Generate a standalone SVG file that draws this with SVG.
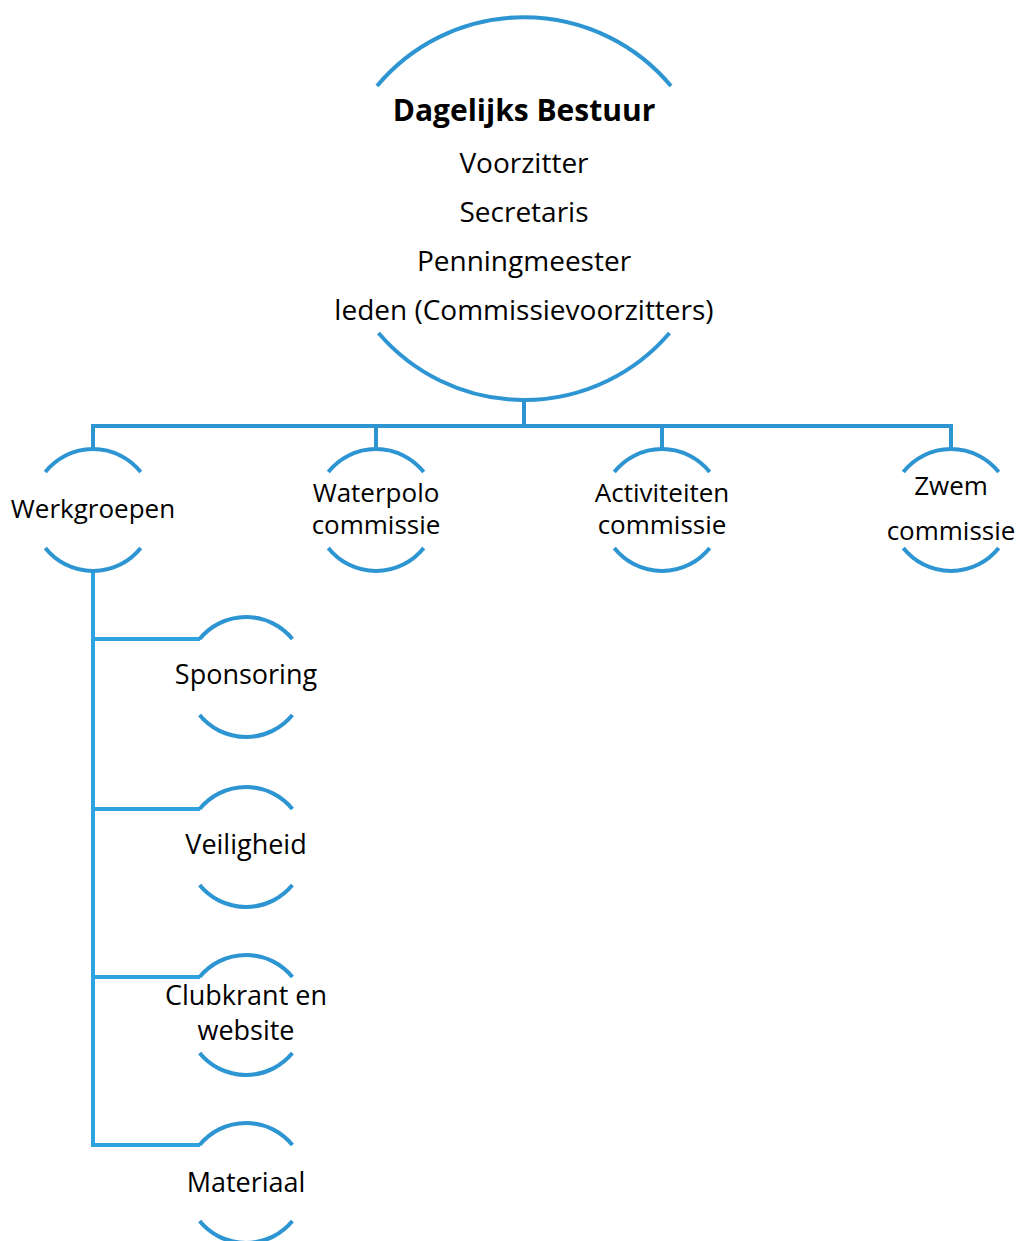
<svg xmlns="http://www.w3.org/2000/svg" width="1017" height="1241" viewBox="0 0 1017 1241">
<style>
.arc{fill:none;stroke:#2D95D2;stroke-width:4;stroke-linecap:butt}
.con{fill:none;stroke:#2D95D2;stroke-width:4;stroke-linejoin:miter;stroke-linecap:butt}
.con2{fill:none;stroke:#2FA2E0;stroke-width:4;stroke-linejoin:miter;stroke-linecap:butt}
text{font-family:"Open Sans","Noto Sans","Liberation Sans",sans-serif;fill:#000;text-anchor:middle}
.t1{font-size:30px;font-weight:bold}
.t2{font-size:28px}
.t3{font-size:26px}
.t4{font-size:27px}
</style>
<rect width="1017" height="1241" fill="#fff"/>
<g id="connectors">
<path class="con" d="M524,400 V426"/>
<path class="con" d="M93,449 V426 H951 V449"/>
<path class="con" d="M376,426 V449"/>
<path class="con" d="M662,426 V449"/>
<path class="con2" d="M93,571 V1145 H200"/>
<path class="con2" d="M93,639 H200"/>
<path class="con2" d="M93,809 H200"/>
<path class="con2" d="M93,977 H200"/>
</g>
<g id="dagelijks-bestuur">
<path class="arc" d="M377,86 A191.5,191.5 0 0 1 671,86"/>
<path class="arc" d="M378.5,333 A191.5,191.5 0 0 0 669.5,333"/>
<text class="t1" x="524" y="121">Dagelijks Bestuur</text>
<text class="t2" x="524" y="173">Voorzitter</text>
<text class="t2" x="524" y="222">Secretaris</text>
<text class="t2" x="524" y="271">Penningmeester</text>
<text class="t2" x="524" y="320">leden (Commissievoorzitters)</text>
</g>
<g id="werkgroepen">
<path class="arc" d="M45.3,472 A61,61 0 0 1 140.7,472"/>
<path class="arc" d="M45.3,548 A61,61 0 0 0 140.7,548"/>
<text class="t3" x="93" y="518">Werkgroepen</text>
</g>
<g id="waterpolo">
<path class="arc" d="M328.3,472 A61,61 0 0 1 423.7,472"/>
<path class="arc" d="M328.3,548 A61,61 0 0 0 423.7,548"/>
<text class="t3" x="376" y="502">Waterpolo</text>
<text class="t3" x="376" y="534">commissie</text>
</g>
<g id="activiteiten">
<path class="arc" d="M614.3,472 A61,61 0 0 1 709.7,472"/>
<path class="arc" d="M614.3,548 A61,61 0 0 0 709.7,548"/>
<text class="t3" x="662" y="502">Activiteiten</text>
<text class="t3" x="662" y="534">commissie</text>
</g>
<g id="zwem">
<path class="arc" d="M903.3,472 A61,61 0 0 1 998.7,472"/>
<path class="arc" d="M903.3,548 A61,61 0 0 0 998.7,548"/>
<text class="t3" x="951" y="495">Zwem</text>
<text class="t3" x="951" y="540">commissie</text>
</g>
<g id="sponsoring">
<path class="arc" d="M199.6,639 A60,60 0 0 1 292.4,639"/>
<path class="arc" d="M199.6,715 A60,60 0 0 0 292.4,715"/>
<text class="t4" x="246" y="684">Sponsoring</text>
</g>
<g id="veiligheid">
<path class="arc" d="M199.6,809 A60,60 0 0 1 292.4,809"/>
<path class="arc" d="M199.6,885 A60,60 0 0 0 292.4,885"/>
<text class="t4" x="246" y="854">Veiligheid</text>
</g>
<g id="clubkrant">
<path class="arc" d="M199.6,977 A60,60 0 0 1 292.4,977"/>
<path class="arc" d="M199.6,1053 A60,60 0 0 0 292.4,1053"/>
<text class="t4" x="246" y="1005">Clubkrant en</text>
<text class="t4" x="246" y="1040">website</text>
</g>
<g id="materiaal">
<path class="arc" d="M199.6,1145 A60,60 0 0 1 292.4,1145"/>
<path class="arc" d="M199.6,1221 A60,60 0 0 0 292.4,1221"/>
<text class="t4" x="246" y="1192">Materiaal</text>
</g>
</svg>
